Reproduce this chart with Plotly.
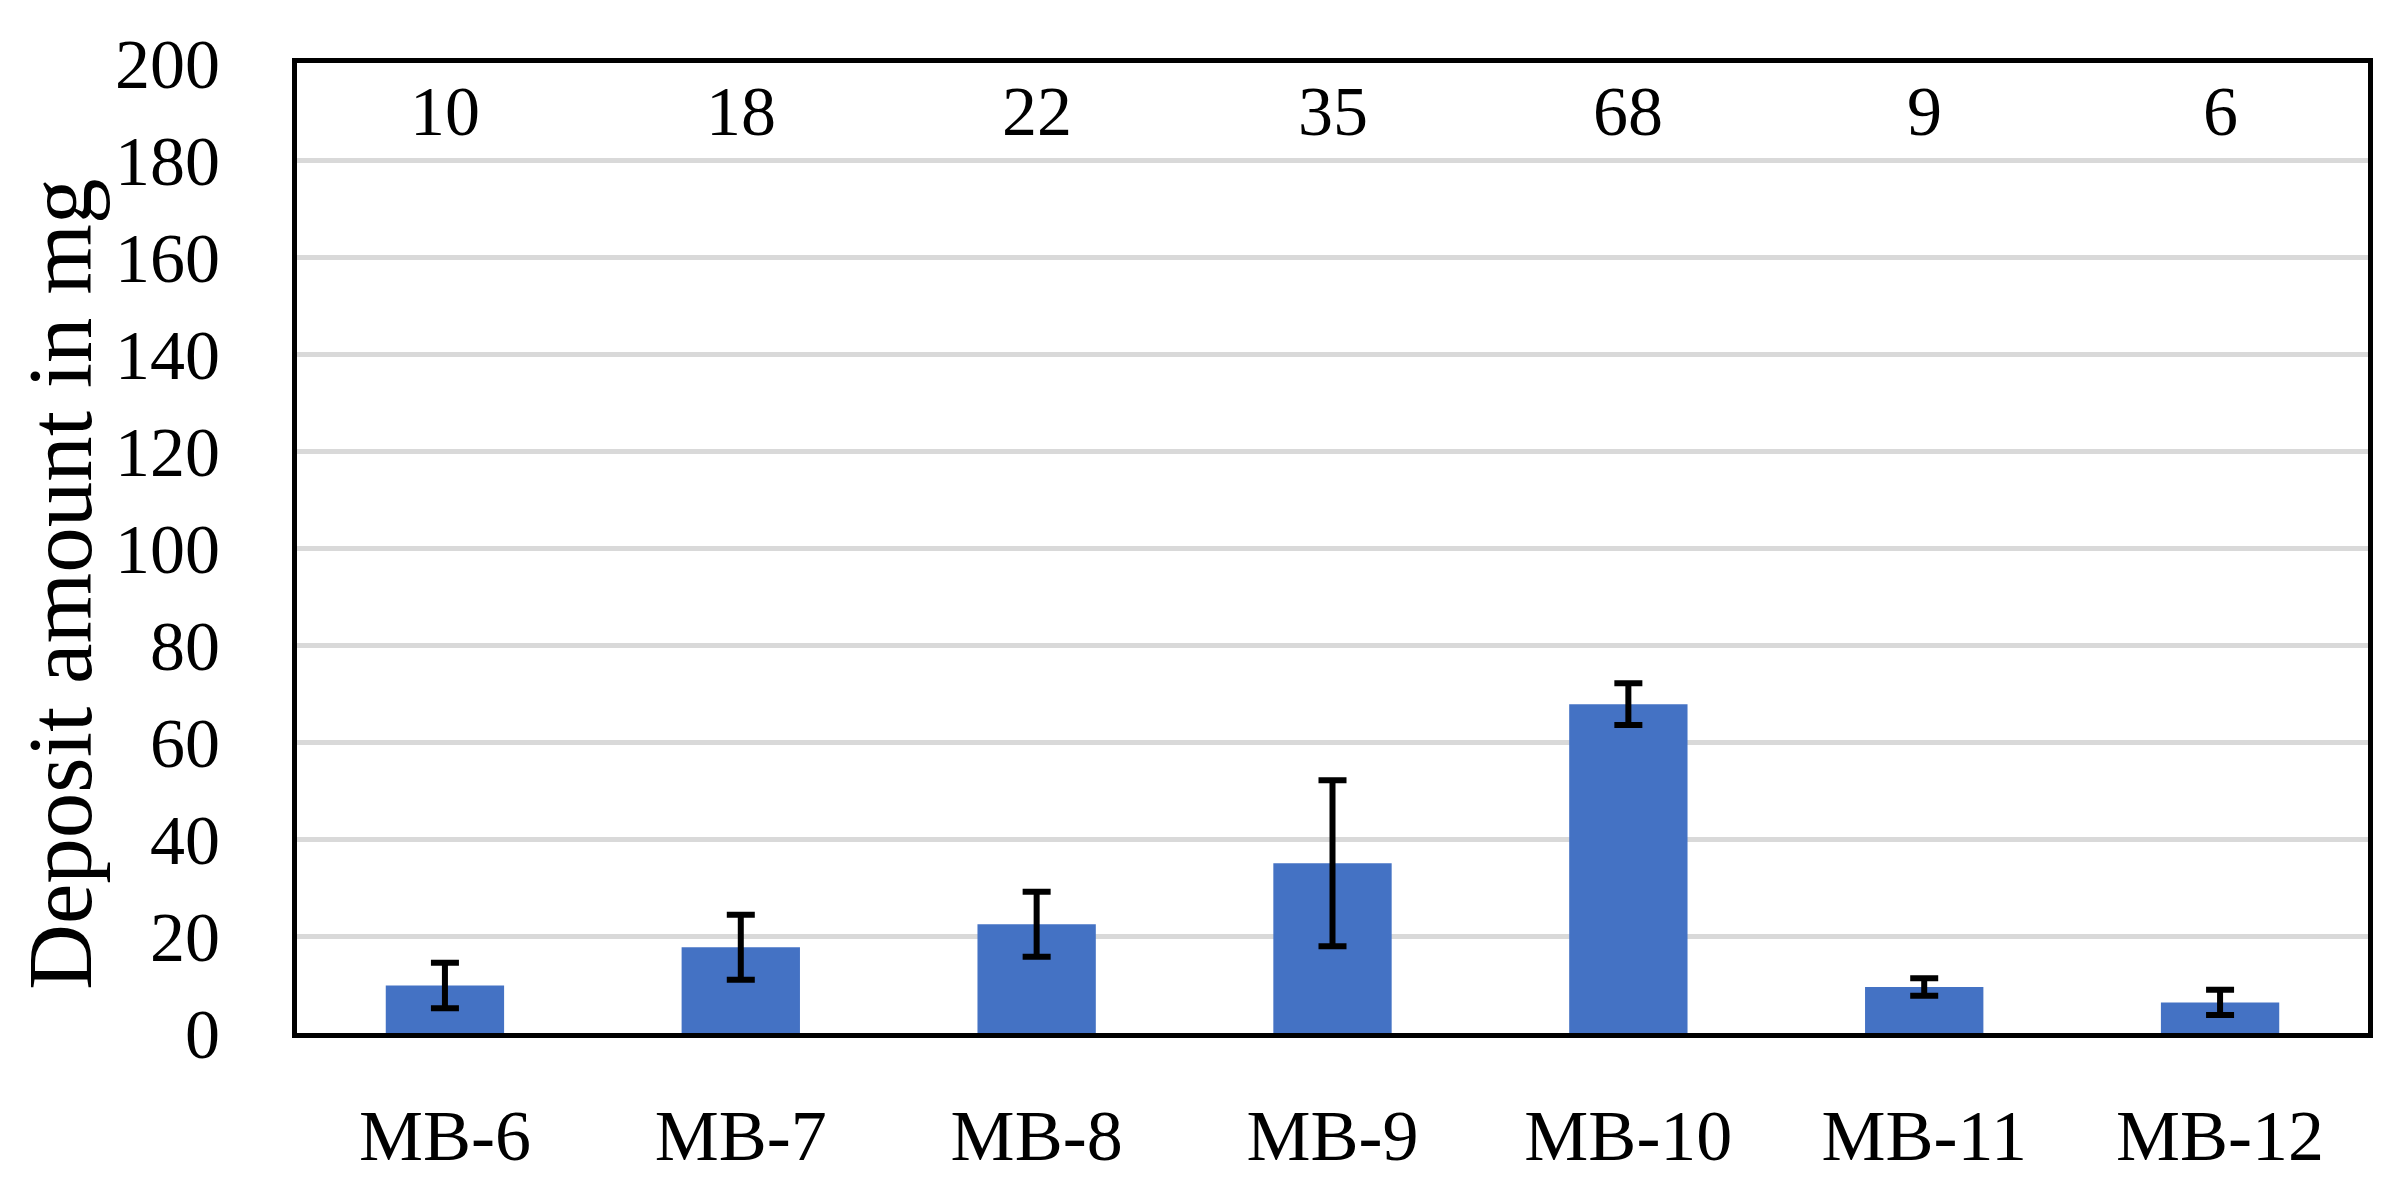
import plotly.graph_objects as go

categories = ["MB-6", "MB-7", "MB-8", "MB-9", "MB-10", "MB-11", "MB-12"]
deposit_mg = [9.8, 17.7, 22.4, 35.0, 67.8, 9.5, 6.3]
error_mg = [4.7, 6.7, 6.7, 17.1, 4.3, 1.8, 2.6]
value_labels = ["10", "18", "22", "35", "68", "9", "6"]
y_ticks = [0, 20, 40, 60, 80, 100, 120, 140, 160, 180, 200]

FONT = "Liberation Serif, Times New Roman, serif"

fig = go.Figure()
fig.add_trace(go.Bar(
    x=categories,
    y=deposit_mg,
    marker=dict(color="#4472C4", line=dict(width=0)),
    error_y=dict(type="data", array=error_mg, visible=True,
                 color="black", thickness=6, width=14),
    showlegend=False,
))

for cat, lab in zip(categories, value_labels):
    fig.add_annotation(x=cat, y=190, text=lab, showarrow=False,
                       xanchor="center", yanchor="middle",
                       font=dict(family=FONT, size=70, color="black"))

fig.add_annotation(text="Deposit amount in mg", xref="paper", yref="paper",
                   x=-0.114, y=0.463, textangle=-90, showarrow=False,
                   xanchor="center", yanchor="middle",
                   font=dict(family=FONT, size=91, color="black"))

fig.update_layout(
    width=2396, height=1187,
    margin=dict(l=289, r=36, t=55, b=162, autoexpand=False),
    paper_bgcolor="white", plot_bgcolor="white",
    bargap=0.6,
    font=dict(family=FONT, size=70, color="black"),
)
fig.update_xaxes(
    automargin=False,
    showline=True, linecolor="black", linewidth=5, mirror=True,
    ticks="outside", ticklen=36, tickcolor="rgba(0,0,0,0)",
    tickfont=dict(family=FONT, size=72, color="black"),
    showgrid=False,
)
fig.update_yaxes(
    automargin=False,
    range=[0, 200], tickvals=y_ticks,
    showline=True, linecolor="black", linewidth=5, mirror=True,
    ticks="outside", ticklen=58, tickcolor="rgba(0,0,0,0)",
    tickfont=dict(family=FONT, size=70, color="black"),
    showgrid=True, gridcolor="#D9D9D9", gridwidth=5,
    zeroline=False,
)

fig.write_html("out.html")
